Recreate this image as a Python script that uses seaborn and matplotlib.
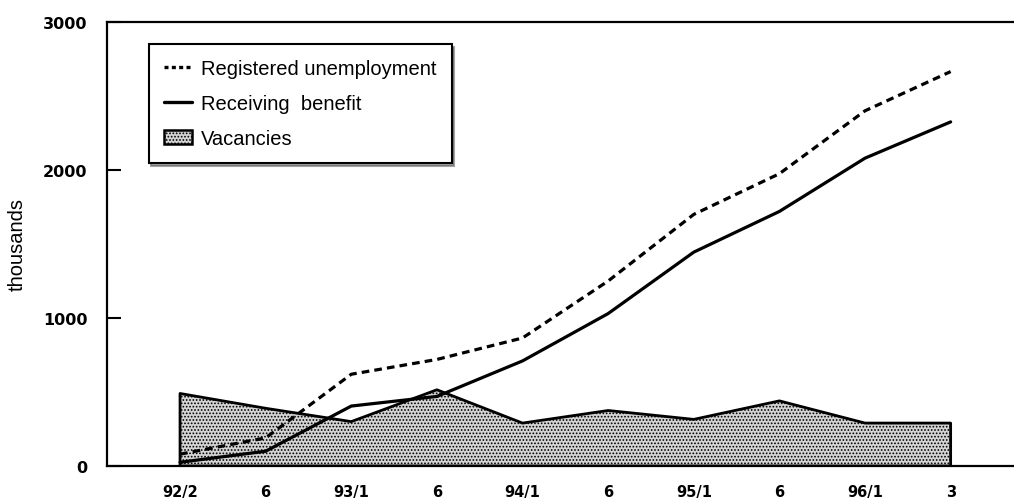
import numpy as np
import pandas as pd
import matplotlib
matplotlib.use("Agg")
import matplotlib.pyplot as plt
import matplotlib.patches as mpatches
import matplotlib.lines as mlines
import seaborn as sns

# quarterly / monthly observation labels
periods = ["92/2", "6", "93/1", "6", "94/1", "6", "95/1", "6", "96/1", "3"]
registered = [80, 190, 620, 720, 865, 1250, 1700, 1975, 2400, 2665]
benefit = [25, 100, 405, 470, 710, 1030, 1445, 1720, 2080, 2325]
vacancies = [490, 390, 300, 515, 290, 375, 315, 440, 290, 290]

sns.set_style("ticks")
plt.rcParams['font.family'] = ['Liberation Sans', 'DejaVu Sans']
plt.rcParams['hatch.color'] = '#a8a8a8'
plt.rcParams['hatch.linewidth'] = 0.8

x = np.arange(len(periods))
df = pd.DataFrame({"x": x, "registered": registered,
                   "benefit": benefit, "vacancies": vacancies})

fig = plt.figure(figsize=(10.14, 5.02), dpi=100)
ax = fig.add_axes([107 / 1014, 1 - 467 / 502, 1 - 107 / 1014, 444 / 502])

# vacancies as shaded area
ax.fill_between(df["x"], 0, df["vacancies"], facecolor="#d4d4d4",
                edgecolor="black", linewidth=2, hatch=".....", zorder=1)

sns.lineplot(data=df, x="x", y="registered", ax=ax, color="black",
             linewidth=2.3, linestyle=(0, (2.4, 1.6)), zorder=3)
sns.lineplot(data=df, x="x", y="benefit", ax=ax, color="black",
             linewidth=2.3, zorder=3)

ax.set_xlim(-0.853, 9.74)
ax.set_ylim(0, 3000)
ax.set_xticks(x)
ax.set_xticklabels(periods, fontsize=10.5, fontweight="bold", color="black",
                   family="DejaVu Sans")
ax.set_yticks([0, 1000, 2000, 3000])
ax.set_yticklabels(["0", "1000", "2000", "3000"], fontsize=11.5,
                   fontweight="bold", color="black", family="DejaVu Sans")
ax.tick_params(axis="x", length=0, pad=13)
ax.tick_params(axis="y", direction="in", length=10, width=1.5, pad=14,
               color="black")
ax.set_xlabel("")
ax.set_ylabel("thousands", fontsize=14.5, labelpad=12, color="black")

for side in ["left", "bottom", "top"]:
    ax.spines[side].set_linewidth(1.6)
    ax.spines[side].set_color("black")
ax.spines["right"].set_visible(False)

h1 = mlines.Line2D([], [], color="black", linewidth=2.4,
                   linestyle=(0, (1.2, 1.0)))
h2 = mlines.Line2D([], [], color="black", linewidth=2.4)
h3 = mpatches.Patch(facecolor="#d4d4d4", edgecolor="black", linewidth=1.8,
                    hatch=".....")
leg = ax.legend([h1, h2, h3],
                ["Registered unemployment", "Receiving  benefit", "Vacancies"],
                loc="upper left", bbox_to_anchor=(0.046, 0.95),
                borderaxespad=0, frameon=True, fancybox=False, shadow=True,
                fontsize=14.5, handlelength=1.4, handletextpad=0.45,
                labelspacing=0.78, borderpad=0.75)
leg.get_frame().set_edgecolor("black")
leg.get_frame().set_linewidth(1.5)
leg.get_frame().set_alpha(1)
for t in leg.get_texts():
    t.set_color("black")

fig.savefig("out.png", dpi=100)
